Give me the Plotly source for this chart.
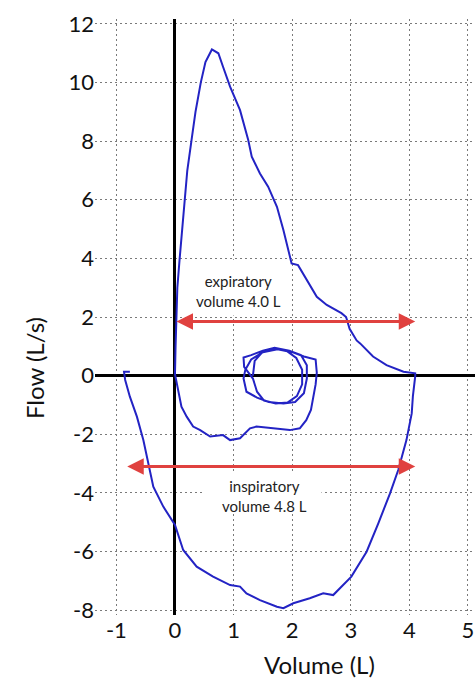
import plotly.graph_objects as go

# ---- data ----
tidal_x = [1.33, 1.36, 1.50, 1.70, 1.90, 2.07, 2.17, 2.17, 2.08, 1.92, 1.72, 1.52, 1.40, 1.33,
           1.18, 1.17, 1.30, 1.50, 1.70, 1.95, 2.15, 2.25, 2.25, 2.20, 2.05, 1.85, 1.60, 1.40, 1.22, 1.17, 1.20,
           1.30, 1.50, 1.75, 2.00, 2.20, 2.40, 2.42, 2.40]
tidal_y = [0.00, 0.50, 0.82, 0.92, 0.85, 0.60, 0.20, -0.30, -0.70, -0.92, -0.95, -0.85, -0.55, -0.10,
           0.30, 0.62, 0.70, 0.85, 0.95, 0.85, 0.70, 0.35, -0.10, -0.60, -0.90, -0.95, -0.90, -0.75, -0.55, -0.10, 0.20,
           0.55, 0.80, 0.90, 0.80, 0.65, 0.55, 0.10, -0.30]

deep_insp_x = [2.36, 2.32, 2.24, 2.13, 1.96, 1.62, 1.39, 1.28, 1.11, 0.94, 0.82, 0.60, 0.43, 0.31,
               0.20, 0.11, 0.05, 0.02, 0.00]
deep_insp_y = [-0.72, -1.17, -1.52, -1.80, -1.86, -1.80, -1.74, -1.80, -2.14, -2.20, -2.03, -2.08, -1.86,
               -1.74, -1.40, -1.06, -0.50, -0.10, 0.05]

exp_x = [0.01, 0.02, 0.04, 0.08, 0.12, 0.16, 0.21, 0.28, 0.35, 0.44, 0.52, 0.63, 0.74, 0.82, 0.94,
         1.11, 1.25, 1.31, 1.45, 1.59, 1.74, 1.85, 1.99, 2.10, 2.25, 2.42, 2.59, 2.84, 2.92, 2.98,
         3.10, 3.16, 3.38, 3.61, 3.90, 4.10]
exp_y = [1.0, 2.0, 3.0, 4.0, 5.0, 6.0, 7.0, 8.0, 9.0, 10.0, 10.7, 11.13, 11.0, 10.54, 9.86,
         9.06, 8.04, 7.47, 6.90, 6.45, 5.76, 4.97, 3.83, 3.77, 3.26, 2.69, 2.41, 2.13, 2.00, 1.60,
         1.20, 1.10, 0.65, 0.36, 0.13, 0.08]

insp_x = [4.10, 4.06, 4.04, 3.95, 3.81, 3.67, 3.47, 3.27, 3.01, 2.84, 2.70, 2.53, 2.30, 2.02, 1.85,
          1.74, 1.45, 1.22, 1.11, 0.94, 0.65, 0.37, 0.14, 0.00, -0.20, -0.37, -0.45, -0.54, -0.65,
          -0.77, -0.85, -0.87, -0.77]
insp_y = [-0.02, -0.70, -1.29, -2.20, -3.22, -4.02, -5.04, -6.01, -6.86, -7.20, -7.49, -7.43, -7.60,
          -7.77, -7.94, -7.89, -7.66, -7.43, -7.20, -7.15, -6.86, -6.52, -5.95, -5.10, -4.47, -3.79,
          -3.00, -2.20, -1.40, -0.72, -0.15, 0.13, 0.13]

exp_arrow_x = [0.0, 4.1]
exp_arrow_y = 1.85
insp_arrow_x = [-0.84, 4.1]
insp_arrow_y = -3.1

x_ticks = [-1, 0, 1, 2, 3, 4, 5]
y_ticks = [-8, -6, -4, -2, 0, 2, 4, 6, 8, 10, 12]

loop_x = tidal_x + deep_insp_x + exp_x + insp_x
loop_y = tidal_y + deep_insp_y + exp_y + insp_y

BLUE = "#2323c4"
RED = "#e0413f"
FONT = "Lato"

fig = go.Figure()
fig.add_trace(go.Scatter(x=loop_x, y=loop_y, mode="lines",
                         line=dict(color=BLUE, width=2), hoverinfo="skip", showlegend=False))

annotations = []
for ax_pts, yv in ((exp_arrow_x, exp_arrow_y), (insp_arrow_x, insp_arrow_y)):
    annotations.append(dict(x=ax_pts[1], y=yv, ax=ax_pts[0], ay=yv, xref="x", yref="y",
                            axref="x", ayref="y", text="", showarrow=True,
                            arrowhead=2, startarrowhead=2, arrowside="end+start",
                            arrowsize=1.1, startarrowsize=1.1, arrowwidth=3, arrowcolor=RED))

annotations.append(dict(x=1.08, y=2.9, xref="x", yref="y", showarrow=False,
                        text="expiratory<br>volume 4.0 L",
                        font=dict(family=FONT, size=15, color="#222")))
annotations.append(dict(x=1.52, y=-4.1, xref="x", yref="y", showarrow=False,
                        text="inspiratory<br>volume 4.8 L",
                        font=dict(family=FONT, size=15, color="#222")))
annotations.append(dict(x=2.47, y=0, xref="x", yref="paper", yshift=-49, showarrow=False,
                        xanchor="center", yanchor="middle",
                        text="Volume (L)", font=dict(family=FONT, size=24, color="#111")))
annotations.append(dict(x=0, y=0.26, xref="paper", yref="y", xshift=-60, showarrow=False,
                        xanchor="center", yanchor="middle",
                        textangle=-90, text="Flow (L/s)", font=dict(family=FONT, size=24, color="#111")))

# white label backgrounds that hide the grid but sit under the curve
shapes = [
    dict(type="rect", layer="between", xref="x", yref="y", x0=0.2, x1=1.95, y0=2.05, y1=3.95,
         fillcolor="white", line=dict(width=0)),
    dict(type="rect", layer="between", xref="x", yref="y", x0=0.5, x1=2.5, y0=-4.7, y1=-3.3,
         fillcolor="white", line=dict(width=0)),
]

grid = dict(showgrid=True, gridcolor="#7a7a7a", gridwidth=1, griddash="2px,3px",
            zeroline=True, zerolinecolor="black", zerolinewidth=3,
            showline=False, ticks="", tickfont=dict(family=FONT, size=22, color="#111"))

fig.update_layout(
    width=475, height=680,
    margin=dict(l=95, r=0, t=19, b=65),
    plot_bgcolor="white", paper_bgcolor="white",
    xaxis=dict(range=[-1.365, 5.12], tickvals=x_ticks, ticktext=[str(v) for v in x_ticks], **grid),
    yaxis=dict(range=[-8.17, 12.17], tickvals=y_ticks, ticktext=[str(v) for v in y_ticks], **grid),
    annotations=annotations,
    shapes=shapes,
    showlegend=False,
)

fig.write_html("out.html")
